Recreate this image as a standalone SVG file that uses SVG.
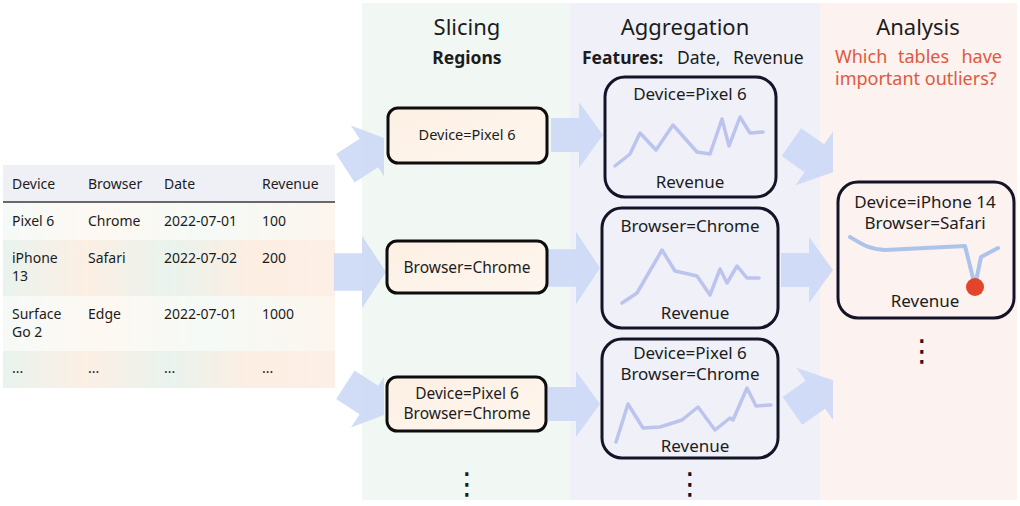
<svg xmlns="http://www.w3.org/2000/svg" width="1020" height="506" viewBox="0 0 1020 506">
<style>
text{font-family:"Noto Sans","Open Sans","DejaVu Sans",sans-serif;fill:#1c1c1c}
.t{font-size:14px}
.h{font-size:22px;text-anchor:middle}
.sub{font-size:17.5px}
.b{font-weight:bold}
.sl{fill:url(#peach);stroke:#0d0d0d;stroke-width:3}
.ag{fill:none;stroke:#141428;stroke-width:3}
.c{text-anchor:middle}
.f14{font-size:14.5px}
.f16{font-size:15.5px}
.f17{font-size:17px}
.ln{fill:none;stroke:#bcc4ee;stroke-width:3.5;stroke-linejoin:round;stroke-linecap:round}
.arr{fill:#ccd8f6;opacity:0.9}
.red{fill:#e1583c;font-size:18px}
.dots{font-family:"DejaVu Sans",sans-serif;font-size:30px;text-anchor:middle}
</style>
<defs>
<linearGradient id="peach" x1="0" y1="0" x2="1" y2="1">
<stop offset="0" stop-color="#fdf0e4"/><stop offset="1" stop-color="#fdf6ee"/>
</linearGradient>
<linearGradient id="rowA" x1="0" y1="0" x2="1" y2="0">
<stop offset="0" stop-color="#e9f3ee"/><stop offset="0.25" stop-color="#fcefe4"/><stop offset="0.5" stop-color="#e9f3ed"/><stop offset="0.75" stop-color="#fdeee2"/><stop offset="1" stop-color="#fcefe6"/>
</linearGradient>
<linearGradient id="rowB" x1="0" y1="0" x2="1" y2="0">
<stop offset="0" stop-color="#f5faf7"/><stop offset="0.3" stop-color="#fef8f2"/><stop offset="0.6" stop-color="#f5faf6"/><stop offset="1" stop-color="#fdf5ee"/>
</linearGradient>
<path id="arr" d="M-52,-17 H-24 V-33 L0,0 L-24,33 V17 H-52 Z"/>
<clipPath id="clipL"><rect x="0" y="0" width="384" height="506"/></clipPath>
<clipPath id="clipR"><rect x="0" y="0" width="833" height="506"/></clipPath>
</defs>

<g id="columns">
<rect x="362" y="3" width="208" height="497" fill="#f1f7f3"/>
<rect x="570" y="3" width="250" height="497" fill="#f0f0f8"/>
<rect x="820" y="3" width="197" height="497" fill="#fcf2f0"/>
</g>

<g id="headers">
<text class="h" x="467" y="35">Slicing</text>
<text class="sub b c" x="467" y="64">Regions</text>
<text class="h" x="685" y="35">Aggregation</text>
<text class="sub b" x="582" y="64">Features:</text>
<text class="sub" x="677" y="64">Date,</text>
<text class="sub" x="733" y="64">Revenue</text>
<text class="h" x="918" y="35">Analysis</text>
<text class="red" x="835" y="63">Which</text>
<text class="red" x="898" y="63">tables</text>
<text class="red" x="1002" y="63" text-anchor="end">have</text>
<text class="red" x="835" y="85">important outliers?</text>
</g>

<g id="table">
<rect x="3" y="165" width="332" height="37" fill="#efeff6"/>
<rect x="3" y="202" width="332" height="38" fill="url(#rowB)"/>
<rect x="3" y="240" width="332" height="56" fill="url(#rowA)"/>
<rect x="3" y="296" width="332" height="55" fill="url(#rowB)"/>
<rect x="3" y="351" width="332" height="37" fill="url(#rowA)"/>
<line x1="3" y1="202" x2="335" y2="202" stroke="#3a3a3a" stroke-width="1.3"/>
<text class="t" x="12" y="189">Device</text>
<text class="t" x="88" y="189">Browser</text>
<text class="t" x="164" y="189">Date</text>
<text class="t" x="262" y="189">Revenue</text>
<text class="t" x="12" y="226">Pixel 6</text>
<text class="t" x="88" y="226">Chrome</text>
<text class="t" x="164" y="226">2022-07-01</text>
<text class="t" x="262" y="226">100</text>
<text class="t" x="12" y="263">iPhone</text>
<text class="t" x="12" y="281">13</text>
<text class="t" x="88" y="263">Safari</text>
<text class="t" x="164" y="263">2022-07-02</text>
<text class="t" x="262" y="263">200</text>
<text class="t" x="12" y="319">Surface</text>
<text class="t" x="12" y="337">Go 2</text>
<text class="t" x="88" y="319">Edge</text>
<text class="t" x="164" y="319">2022-07-01</text>
<text class="t" x="262" y="319">1000</text>
<text class="t" x="12" y="373">...</text>
<text class="t" x="88" y="373">...</text>
<text class="t" x="164" y="373">...</text>
<text class="t" x="262" y="373">...</text>
</g>

<g id="connectors">
<g clip-path="url(#clipL)">
<use href="#arr" class="arr" transform="translate(389,140) rotate(-33)"/>
<use href="#arr" class="arr" transform="translate(389,413) rotate(33)"/>
</g>
<use href="#arr" class="arr" transform="translate(386,272) scale(1,1.1)"/>
<use href="#arr" class="arr" transform="translate(603,135)"/>
<use href="#arr" class="arr" transform="translate(600,268) scale(1,1.1)"/>
<use href="#arr" class="arr" transform="translate(600,404)"/>
<use href="#arr" class="arr" transform="translate(833,270)"/>
<g clip-path="url(#clipR)">
<use href="#arr" class="arr" transform="translate(834,172) rotate(35)"/>
<use href="#arr" class="arr" transform="translate(835,381) rotate(-35)"/>
</g>
</g>

<g id="slice1">
<rect class="sl" x="388" y="108" width="159" height="55" rx="10"/>
<text class="f14 c" x="467" y="140">Device=Pixel 6</text>
</g>
<g id="slice2">
<rect class="sl" x="387" y="241" width="160" height="52" rx="10"/>
<text class="f16 c" x="467" y="273">Browser=Chrome</text>
</g>
<g id="slice3">
<rect class="sl" x="387" y="377" width="159" height="54" rx="10"/>
<text class="f16 c" x="467" y="399">Device=Pixel 6</text>
<text class="f16 c" x="467" y="419">Browser=Chrome</text>
</g>
<g id="slice-more"><text class="dots" x="467" y="494">⋮</text></g>

<g id="agg1">
<rect class="ag" x="605" y="77" width="171" height="120" rx="20"/>
<text class="f17 c" x="690" y="100">Device=Pixel 6</text>
<polyline class="ln" points="615,166 630,154 640,133 656,150 673,125 697,152 710,154 722,119 729,146 740,117 750,133 763,132"/>
<text class="f17 c" x="690" y="188">Revenue</text>
</g>
<g id="agg2">
<rect class="ag" x="602" y="208" width="176" height="120" rx="20"/>
<text class="f17 c" x="690" y="232">Browser=Chrome</text>
<polyline class="ln" points="622,303 637,293 662,250 675,271 697,276 710,295 720,269 727,283 737,266 747,278 759,278"/>
<text class="f17 c" x="695" y="319">Revenue</text>
</g>
<g id="agg3">
<rect class="ag" x="602" y="339" width="176" height="119" rx="20"/>
<text class="f17 c" x="690" y="359">Device=Pixel 6</text>
<text class="f17 c" x="690" y="380">Browser=Chrome</text>
<polyline class="ln" points="616,442 628,404 643,428 660,427 682,420 698,407 715,430 730,418 733,420 747,388 756,406 771,405"/>
<text class="f17 c" x="695" y="452">Revenue</text>
</g>
<g id="agg-more"><text class="dots" x="690" y="494" style="fill:#111">⋮</text></g>

<g id="analysis1">
<rect class="ag" x="838" y="182" width="176" height="136" rx="20"/>
<text class="f17 c" x="925" y="208">Device=iPhone 14</text>
<text class="f17 c" x="925" y="229">Browser=Safari</text>
<path d="M850,237 C862,244 868,249 885,250 L925,248 L965,246 L975,286 L981,257 L998,248" fill="none" stroke="#acc3eb" stroke-width="4" stroke-linejoin="round" stroke-linecap="round"/>
<circle cx="975" cy="287" r="9" fill="#e4442b"/>
<text class="f17 c" x="925" y="307">Revenue</text>
</g>
<g id="analysis-more"><text class="dots" x="922" y="361" style="fill:#3b0d0d">⋮</text></g>
</svg>
